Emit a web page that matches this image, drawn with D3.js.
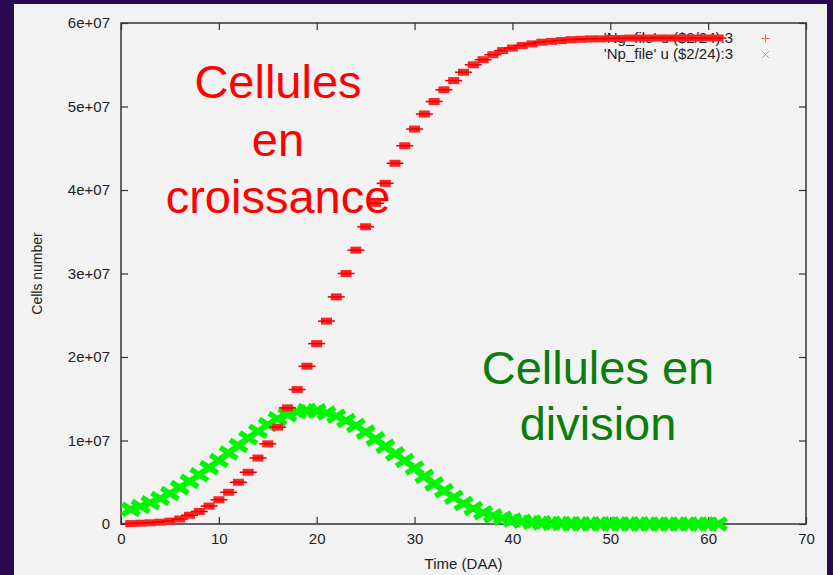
<!DOCTYPE html>
<html>
<head>
<meta charset="utf-8">
<script src="https://cdn.jsdelivr.net/npm/d3@7"></script>
<style>
  html, body { margin: 0; padding: 0; background: #2a0850; }
  svg { display: block; font-family: "Liberation Sans", Arial, sans-serif; }
</style>
</head>
<body>
<svg width="833" height="575"></svg>
<script>
// Time in days after anthesis
const days = [1, 2, 3, 4, 5, 6, 7, 8, 9, 10, 11, 12, 13, 14, 15, 16, 17, 18, 19, 20,
  21, 22, 23, 24, 25, 26, 27, 28, 29, 30, 31, 32, 33, 34, 35, 36, 37, 38, 39, 40,
  41, 42, 43, 44, 45, 46, 47, 48, 49, 50, 51, 52, 53, 54, 55, 56, 57, 58, 59, 60, 61];

// Growing cells (Ng), in millions
const ngMillions = [0.05, 0.1, 0.15, 0.22, 0.35, 0.6, 1.05, 1.5, 2.15, 2.9,
  3.8, 5.0, 6.2, 7.9, 9.6, 11.6, 13.9, 16.1, 18.9, 21.6,
  24.3, 27.2, 30.0, 32.8, 35.6, 38.4, 40.8, 43.2, 45.3, 47.3,
  49.1, 50.6, 52.0, 53.1, 54.1, 55.0, 55.6, 56.2, 56.7, 57.0,
  57.3, 57.5, 57.7, 57.8, 57.9, 58.0, 58.05, 58.1, 58.1, 58.15,
  58.15, 58.2, 58.2, 58.2, 58.2, 58.2, 58.2, 58.2, 58.2, 58.2, 58.2];

// Dividing cells (Np), in millions
const npMillions = [1.75, 2.1, 2.55, 3.05, 3.65, 4.35, 5.1, 5.9, 6.75, 7.6,
  8.5, 9.4, 10.3, 11.1, 11.9, 12.6, 13.1, 13.45, 13.6, 13.55,
  13.3, 12.9, 12.4, 11.8, 11.0, 10.2, 9.3, 8.4, 7.6, 6.7,
  5.7, 4.8, 4.0, 3.2, 2.45, 1.85, 1.35, 0.98, 0.68, 0.48,
  0.33, 0.22, 0.14, 0.09, 0.06, 0.04, 0.03, 0.02, 0.015, 0.01,
  0.01, 0.01, 0.01, 0.0, 0.0, 0.0, 0.0, 0.0, 0.0, 0.0, 0.0];

const xTicks = [0, 10, 20, 30, 40, 50, 60, 70];
const yTicks = [0, 1e7, 2e7, 3e7, 4e7, 5e7, 6e7];
const legendLabels = ["'Ng_file' u ($2/24):3", "'Np_file' u ($2/24):3"];

const svg = d3.select("svg");

// light slide panel
svg.append("rect")
    .attr("x", 14).attr("y", 4)
    .attr("width", 813).attr("height", 575)
    .attr("fill", "#f2f2f2");

const plot = {left: 121, right: 806, top: 23, bottom: 524};

const x = d3.scaleLinear().domain([0, 70]).range([plot.left, plot.right]);
const y = d3.scaleLinear().domain([0, 6e7]).range([plot.bottom, plot.top]);

const yFormat = v => v === 0 ? "0" : `${v / 1e7}e+07`;

// axes, gnuplot style: ticks inward, mirrored
const axisColor = "#333";
const gx = svg.append("g")
    .attr("transform", `translate(0,${plot.bottom})`)
    .call(d3.axisBottom(x).tickValues(xTicks).tickSizeInner(-7).tickSizeOuter(0).tickPadding(9));
const gxTop = svg.append("g")
    .attr("transform", `translate(0,${plot.top})`)
    .call(d3.axisTop(x).tickValues(xTicks).tickSizeInner(-7).tickSizeOuter(0).tickFormat(""));
const gy = svg.append("g")
    .attr("transform", `translate(${plot.left},0)`)
    .call(d3.axisLeft(y).tickValues(yTicks).tickFormat(yFormat).tickSizeInner(-7).tickSizeOuter(0).tickPadding(11));
const gyRight = svg.append("g")
    .attr("transform", `translate(${plot.right},0)`)
    .call(d3.axisRight(y).tickValues(yTicks).tickSizeInner(-7).tickSizeOuter(0).tickFormat(""));

[gx, gxTop, gy, gyRight].forEach(g => {
    g.select(".domain").remove();
    g.selectAll(".tick line").attr("stroke", axisColor).attr("stroke-width", 1.2);
    g.selectAll(".tick text")
        .attr("fill", "#222")
        .style("font-size", "15px")
        .style("font-family", "'Liberation Sans', Arial, sans-serif");
});

svg.append("rect")
    .attr("x", plot.left).attr("y", plot.top)
    .attr("width", plot.right - plot.left).attr("height", plot.bottom - plot.top)
    .attr("fill", "none")
    .attr("stroke", axisColor)
    .attr("stroke-width", 1.5);

// axis titles
svg.append("text")
    .attr("x", (plot.left + plot.right) / 2)
    .attr("y", 569)
    .attr("text-anchor", "middle")
    .attr("font-size", "15px")
    .attr("fill", "#222")
    .text("Time (DAA)");

svg.append("text")
    .attr("transform", `translate(42,${(plot.top + plot.bottom) / 2}) rotate(-90)`)
    .attr("text-anchor", "middle")
    .attr("font-size", "14px")
    .attr("fill", "#222")
    .text("Cells number");

// big annotations
const red = "#ff0000";
const darkGreen = "#0a7d0a";
const bigFont = "47px";
svg.append("text")
    .attr("x", 278).attr("y", 98)
    .attr("text-anchor", "middle").attr("font-size", bigFont).attr("fill", red)
    .selectAll("tspan")
    .data(["Cellules", "en", "croissance"])
    .join("tspan")
    .attr("x", 278)
    .attr("dy", (d, i) => i === 0 ? 0 : 57.5)
    .text(d => d);

svg.append("text")
    .attr("x", 598).attr("y", 384)
    .attr("text-anchor", "middle").attr("font-size", bigFont).attr("fill", darkGreen)
    .selectAll("tspan")
    .data(["Cellules en", "division"])
    .join("tspan")
    .attr("x", 598)
    .attr("dy", (d, i) => i === 0 ? 0 : 56)
    .text(d => d);

// legend text
const legend = svg.append("g");
legendLabels.forEach((label, i) => {
    legend.append("text")
        .attr("x", 733).attr("y", 43 + i * 15.5)
        .attr("text-anchor", "end")
        .attr("font-size", "15px")
        .attr("fill", "#222")
        .text(label);
});
legend.append("path")
    .attr("d", "M761.5,38.5 H769.5 M765.5,34.5 V42.5")
    .attr("stroke", "#ff6060").attr("stroke-width", 1).attr("fill", "none");
legend.append("path")
    .attr("d", "M762,51 L769,58 M762,58 L769,51")
    .attr("stroke", "#40f040").attr("stroke-width", 1).attr("fill", "none");

// Np series: thick x markers
const npData = days.map((d, i) => ({t: d, v: npMillions[i] * 1e6}));
const ngData = days.map((d, i) => ({t: d, v: ngMillions[i] * 1e6}));

svg.append("g").selectAll("path")
    .data(npData)
    .join("path")
    .attr("transform", d => `translate(${x(d.t)},${y(d.v)})`)
    .attr("d", "M-8.5,-5.5 L8.5,5.5 M-8.5,5.5 L8.5,-5.5")
    .attr("stroke", "#00f500")
    .attr("stroke-width", 5.5)
    .attr("fill", "none");

// Ng series: thick + markers
const ngG = svg.append("g").selectAll("g")
    .data(ngData)
    .join("g")
    .attr("transform", d => `translate(${x(d.t)},${y(d.v)})`);
ngG.append("rect")
    .attr("x", -5.5).attr("y", -3.5)
    .attr("width", 11).attr("height", 7)
    .attr("fill", "#ff2424");
ngG.append("path")
    .attr("d", "M-8.5,0 H8.5")
    .attr("stroke", "#e60000")
    .attr("stroke-width", 1.5);
</script>
</body>
</html>
